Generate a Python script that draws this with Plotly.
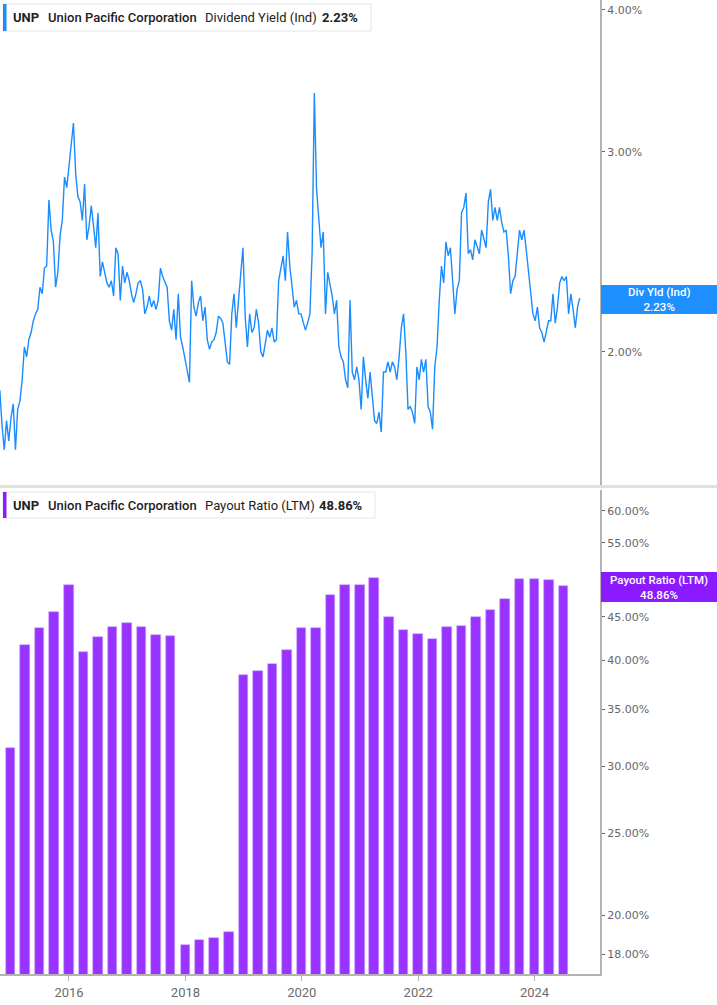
import math
import pandas as pd
import plotly.graph_objects as go

# Dividend yield (Ind), %, sampled every two weeks from late Oct 2014
yield_start = "2014-10-24"
yield_pct = [
    1.85, 1.72, 1.64, 1.74, 1.67, 1.75, 1.80, 1.64, 1.78, 1.81,
    1.89, 2.02, 1.98, 2.05, 2.08, 2.13, 2.16, 2.18, 2.28, 2.25,
    2.37, 2.38, 2.72, 2.56, 2.50, 2.28, 2.35, 2.53, 2.61, 2.85,
    2.79, 2.91, 3.03, 3.18, 2.87, 2.74, 2.71, 2.61, 2.81, 2.51,
    2.58, 2.69, 2.58, 2.47, 2.65, 2.33, 2.40, 2.35, 2.30, 2.28,
    2.31, 2.24, 2.47, 2.44, 2.22, 2.38, 2.30, 2.35, 2.31, 2.25,
    2.21, 2.25, 2.30, 2.31, 2.27, 2.16, 2.19, 2.24,
    2.19, 2.22, 2.18, 2.22, 2.37, 2.33, 2.30, 2.28, 2.13, 2.09,
    2.18, 2.05, 2.25, 2.06, 2.02, 1.97, 1.92, 1.88, 2.31, 2.19,
    2.15, 2.21, 2.24, 2.13, 2.19, 2.05, 2.01, 2.04, 2.05, 2.08,
    2.15, 2.14, 2.12, 2.04, 1.96, 1.95, 2.16, 2.25, 2.10, 2.22,
    2.33, 2.47, 2.15, 2.02, 2.16, 2.08, 2.10, 2.18, 2.12, 2.00,
    1.98, 2.04, 2.09, 2.06, 2.10, 2.04, 2.05, 2.31, 2.38, 2.43,
    2.31, 2.55, 2.38, 2.28, 2.19, 2.22, 2.16,
    2.16, 2.13, 2.09, 2.12, 2.16, 2.44, 3.38, 2.78, 2.61, 2.47,
    2.55, 2.16, 2.35, 2.30, 2.24, 2.16, 2.22, 2.02, 1.98, 1.96,
    1.89, 1.86, 2.22, 1.92, 1.89, 1.94, 1.89, 1.78, 1.98, 1.89,
    1.82, 1.92, 1.81, 1.74, 1.73, 1.77, 1.70, 1.92, 1.92, 1.96,
    1.92, 1.96, 1.94, 1.89, 1.98, 2.10, 2.16, 2.00, 1.78, 1.79,
    1.77, 1.73, 1.94, 1.89, 1.97, 1.92, 1.97, 1.79, 1.77, 1.71,
    1.94, 2.02, 2.22, 2.38, 2.30, 2.50, 2.43,
    2.47, 2.31, 2.16, 2.27, 2.31, 2.65, 2.68, 2.76, 2.44, 2.46,
    2.41, 2.51, 2.47, 2.44, 2.56, 2.51, 2.47, 2.71, 2.78, 2.61,
    2.68, 2.61, 2.68, 2.60, 2.55, 2.56, 2.43, 2.25, 2.31, 2.33,
    2.46, 2.56, 2.51, 2.56, 2.46, 2.36, 2.25, 2.16, 2.13, 2.19,
    2.10, 2.08, 2.04, 2.08, 2.13, 2.13, 2.25, 2.12, 2.19, 2.30,
    2.33, 2.31, 2.33, 2.16, 2.25, 2.18, 2.10, 2.19, 2.23,
]
yield_dates = pd.date_range(yield_start, periods=len(yield_pct), freq="14D")

# Payout ratio (LTM), %, quarter ends
payout_dates = [
    "2014-12-31", "2015-03-31", "2015-06-30", "2015-09-30", "2015-12-31",
    "2016-03-31", "2016-06-30", "2016-09-30", "2016-12-31", "2017-03-31",
    "2017-06-30", "2017-09-30", "2017-12-31", "2018-03-31", "2018-06-30",
    "2018-09-30", "2018-12-31", "2019-03-31", "2019-06-30", "2019-09-30",
    "2019-12-31", "2020-03-31", "2020-06-30", "2020-09-30", "2020-12-31",
    "2021-03-31", "2021-06-30", "2021-09-30", "2021-12-31", "2022-03-31",
    "2022-06-30", "2022-09-30", "2022-12-31", "2023-03-31", "2023-06-30",
    "2023-09-30", "2023-12-31", "2024-03-31", "2024-06-30",
]
payout_pct = [
    31.5, 41.7, 43.6, 45.6, 49.1, 40.9, 42.6, 43.8, 44.2, 43.8,
    42.8, 42.7, 18.45, 18.7, 18.8, 19.1, 38.4, 38.8, 39.6, 41.1,
    43.6, 43.6, 47.7, 49.1, 49.0, 50.0, 45.0, 43.4, 42.9, 42.4,
    43.8, 43.9, 45.0, 45.8, 47.2, 49.9, 49.8, 49.7, 48.86,
]

yield_ticks = [2, 3, 4]
# 50.00% sits behind the callout box in the original
payout_ticks = [18, 20, 25, 30, 35, 40, 45, 55, 60]
year_ticks = ["2016-01-01", "2018-01-01", "2020-01-01", "2022-01-01", "2024-01-01"]

W, H = 717, 1005
BLUE = "#1a8cff"
PURPLE = "#9933ff"
AXIS = "#b3b3b3"
TICKFONT = dict(family="DejaVu Sans", size=11, color="#666666")


def px(x):
    return x / W


def py(y):
    return 1 - y / H


fig = go.Figure()

fig.add_trace(go.Scatter(
    x=yield_dates, y=yield_pct, mode="lines",
    line=dict(color=BLUE, width=1.4),
    xaxis="x", yaxis="y", showlegend=False,
))

fig.add_trace(go.Bar(
    x=pd.to_datetime(payout_dates), y=payout_pct,
    width=60 * 86400000,
    marker=dict(color=PURPLE, line=dict(color="#c9a3ff", width=0.6)),
    xaxis="x2", yaxis="y2", showlegend=False,
))

x_range = ["2014-10-25", "2025-02-15"]
x_dom = [0, px(600)]

fig.update_layout(
    width=W, height=H,
    margin=dict(l=0, r=0, t=0, b=0),
    paper_bgcolor="white", plot_bgcolor="white",
    bargap=0,
    xaxis=dict(
        domain=x_dom, range=x_range, type="date", anchor="y",
        showticklabels=False, showgrid=False, showline=False, ticks="",
        zeroline=False,
    ),
    yaxis=dict(
        domain=[py(487), 1], type="log",
        range=[math.log10(1.521), math.log10(4.08)],
        side="right", anchor="x",
        tickvals=yield_ticks, ticktext=[f"{v:.2f}%" for v in yield_ticks],
        showgrid=False, showline=True, linecolor=AXIS, linewidth=2,
        ticks="outside", ticklen=3, tickcolor="#666666",
        tickfont=TICKFONT, automargin=False,
    ),
    xaxis2=dict(
        domain=x_dom, range=x_range, type="date", anchor="y2",
        tickvals=year_ticks, tickformat="%Y",
        showgrid=False, showline=True, linecolor=AXIS, linewidth=2,
        ticks="outside", ticklen=5, tickcolor=AXIS,
        tickfont=dict(family="Roboto", size=13, color="#6b6b6b"),
        automargin=False,
    ),
    yaxis2=dict(
        domain=[py(974), py(490)], type="log",
        range=[math.log10(17.05), math.log10(63.5)],
        side="right", anchor="x2",
        tickvals=payout_ticks, ticktext=[f"{v:.2f}%" for v in payout_ticks],
        showgrid=False, showline=True, linecolor=AXIS, linewidth=2,
        ticks="outside", ticklen=3, tickcolor="#666666",
        tickfont=TICKFONT, automargin=False,
    ),
)

shapes = []
annotations = []

# separator between the two panels
shapes.append(dict(type="line", xref="paper", yref="paper",
                   x0=0, x1=1, y0=py(486.5), y1=py(486.5),
                   line=dict(color="#e0e0e0", width=3)))


def header(y_top, y_bot, right, color, parts):
    shapes.append(dict(type="rect", xref="paper", yref="paper",
                       x0=px(3), x1=px(right), y0=py(y_bot), y1=py(y_top),
                       fillcolor="white", line=dict(color="#e6e6e6", width=1)))
    shapes.append(dict(type="rect", xref="paper", yref="paper",
                       x0=px(3), x1=px(6.5), y0=py(y_bot), y1=py(y_top),
                       fillcolor=color, line=dict(width=0)))
    ymid = py((y_top + y_bot) / 2)
    for x, text, weight in parts:
        annotations.append(dict(
            xref="paper", yref="paper", x=px(x - 2), y=ymid,
            xanchor="left", yanchor="middle", showarrow=False, text=text,
            font=dict(family="Roboto", size=13, color="#222222", weight=weight),
        ))


header(4, 31, 371, BLUE, [
    (13, "UNP", 700),
    (48, "Union Pacific Corporation", 500),
    (205, "Dividend Yield (Ind)", 400),
    (322, "2.23%", 700),
])
header(492, 518, 375, "#8c1aff", [
    (13, "UNP", 700),
    (48, "Union Pacific Corporation", 500),
    (205, "Payout Ratio (LTM)", 400),
    (319, "48.86%", 700),
])


def callout(y_top, y_bot, color, text):
    shapes.append(dict(type="rect", xref="paper", yref="paper",
                       x0=px(601), x1=1, y0=py(y_bot), y1=py(y_top),
                       fillcolor=color, line=dict(width=0), layer="above"))
    annotations.append(dict(
        xref="paper", yref="paper", x=px(659), y=py((y_top + y_bot) / 2),
        xanchor="center", yanchor="middle", showarrow=False, text=text,
        align="center",
        font=dict(family="Roboto", size=11.5, color="white", weight=500),
    ))


callout(285, 314, "#1e8fff", "Div Yld (Ind)<br>2.23%")
callout(572, 602, "#8c1aff", "Payout Ratio (LTM)<br>48.86%")

fig.update_layout(shapes=shapes, annotations=annotations)

fig.write_html("out.html", config={"displayModeBar": False},
               post_script="document.body.style.margin='0';")
